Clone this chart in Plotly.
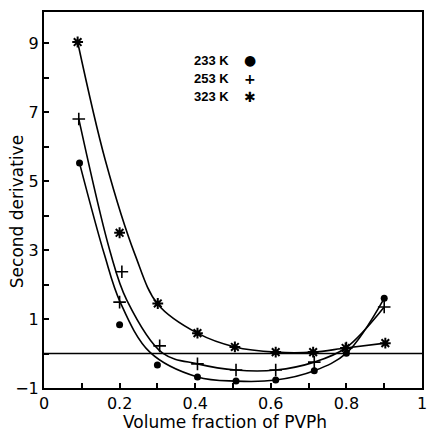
import plotly.graph_objects as go

# ---- measured data points ----
x_233 = [0.094, 0.2, 0.3, 0.406, 0.508, 0.613, 0.715, 0.80, 0.90]
y_233 = [5.52, 0.83, -0.33, -0.68, -0.80, -0.77, -0.50, 0.01, 1.60]

x_253 = [0.092, 0.2, 0.206, 0.306, 0.406, 0.508, 0.613, 0.715, 0.80, 0.90]
y_253 = [6.80, 1.49, 2.37, 0.22, -0.30, -0.48, -0.48, -0.25, 0.16, 1.35]

x_323 = [0.089, 0.2, 0.301, 0.406, 0.505, 0.613, 0.712, 0.798, 0.903]
y_323 = [9.03, 3.50, 1.45, 0.59, 0.19, 0.04, 0.04, 0.16, 0.30]

# ---- fitted curves, node values ----
cx_233 = [0.094, 0.160, 0.2016, 0.28, 0.406, 0.508, 0.613, 0.715, 0.80, 0.90]
cy_233 = [5.52, 2.86, 1.49, 0.04, -0.68, -0.80, -0.77, -0.50, 0.01, 1.60]

cx_253 = [0.092, 0.175, 0.219, 0.314, 0.406, 0.508, 0.613, 0.715, 0.798, 0.90]
cy_253 = [6.80, 2.95, 1.55, 0.01, -0.30, -0.48, -0.48, -0.25, 0.16, 1.35]

cx_323 = [0.089, 0.162, 0.241, 0.301, 0.406, 0.505, 0.613, 0.712, 0.798, 0.903]
cy_323 = [9.03, 5.61, 2.86, 1.43, 0.59, 0.19, 0.04, 0.04, 0.16, 0.30]

legend_labels = ["233 K", "253 K", "323 K"]
legend_symbols = ["\u25CF", "+", "\u2731"]

x_ticks = [0, 0.2, 0.4, 0.6, 0.8, 1]
x_ticktext = ["0", "0.2", "0.4", "0.6", "0.8", "1"]
y_ticks = [-1, 1, 3, 5, 7, 9]
y_ticktext = ["\u22121", "1", "3", "5", "7", "9"]

x_title = "Volume fraction of PVPh"
y_title = "Second derivative"

FONT = "DejaVu Sans, sans-serif"
LFONT = "Liberation Sans, Arial, sans-serif"
fig = go.Figure()

for cx, cy in [(cx_233, cy_233), (cx_253, cy_253), (cx_323, cy_323)]:
    fig.add_trace(go.Scatter(x=cx, y=cy, mode="lines",
                             line=dict(color="black", width=1.6, shape="spline", smoothing=1.0),
                             showlegend=False, hoverinfo="skip"))

fig.add_trace(go.Scatter(x=x_233, y=y_233, mode="markers",
                         marker=dict(symbol="circle", size=7, color="black"), showlegend=False))
fig.add_trace(go.Scatter(x=x_253, y=y_253, mode="markers",
                         marker=dict(symbol="cross-thin", size=9, color="black",
                                     line=dict(color="black", width=1.6)), showlegend=False))
fig.add_trace(go.Scatter(x=x_323, y=y_323, mode="markers",
                         marker=dict(symbol="asterisk", size=9, color="black",
                                     line=dict(color="black", width=2)), showlegend=False))

# horizontal zero line
fig.add_shape(type="line", xref="paper", yref="y", x0=0, x1=1, y0=0, y1=0,
              line=dict(color="black", width=1.6))

# legend as text
legend_y = [0.872, 0.822, 0.774]
for lab, sym, ly in zip(legend_labels, legend_symbols, legend_y):
    fig.add_annotation(xref="paper", yref="paper", x=0.392, y=ly, text="<b>%s</b>" % lab,
                       showarrow=False, xanchor="left", yanchor="middle",
                       font=dict(family=LFONT, size=13, color="black"))
    fig.add_annotation(xref="paper", yref="paper", x=0.546, y=ly, text="<b>%s</b>" % sym,
                       showarrow=False, xanchor="center", yanchor="middle",
                       font=dict(family="DejaVu Sans", size=14, color="black"))

# axis titles
fig.add_annotation(xref="paper", yref="paper", x=0.479, y=-0.090, text=x_title,
                   showarrow=False, xanchor="center", yanchor="middle",
                   font=dict(family=FONT, size=17, color="black"))
fig.add_annotation(xref="paper", yref="paper", x=-0.071, y=0.468, text=y_title,
                   showarrow=False, xanchor="center", yanchor="middle", textangle=-90,
                   font=dict(family=FONT, size=17, color="black"))

axis_common = dict(showline=True, linecolor="black", linewidth=2, mirror=True,
                   ticks="inside", ticklen=5, tickwidth=1.5, tickcolor="black",
                   showgrid=False, zeroline=False, ticklabeloverflow="allow",
                   tickfont=dict(family=FONT, size=16, color="black"))

fig.update_xaxes(range=[0, 1], tickvals=x_ticks, ticktext=x_ticktext,
                 minor=dict(dtick=0.1, ticks="inside", ticklen=5, tickcolor="black", tickwidth=1.5),
                 **axis_common)
fig.update_yaxes(range=[-1, 9.9], tickvals=y_ticks, ticktext=y_ticktext,
                 minor=dict(dtick=1, tick0=0, ticks="inside", ticklen=5, tickcolor="black", tickwidth=1.5),
                 **axis_common)

fig.update_layout(width=428, height=431, margin=dict(l=44, r=1, t=12, b=43),
                  plot_bgcolor="white", paper_bgcolor="white", showlegend=False)

fig.write_html("out.html")
